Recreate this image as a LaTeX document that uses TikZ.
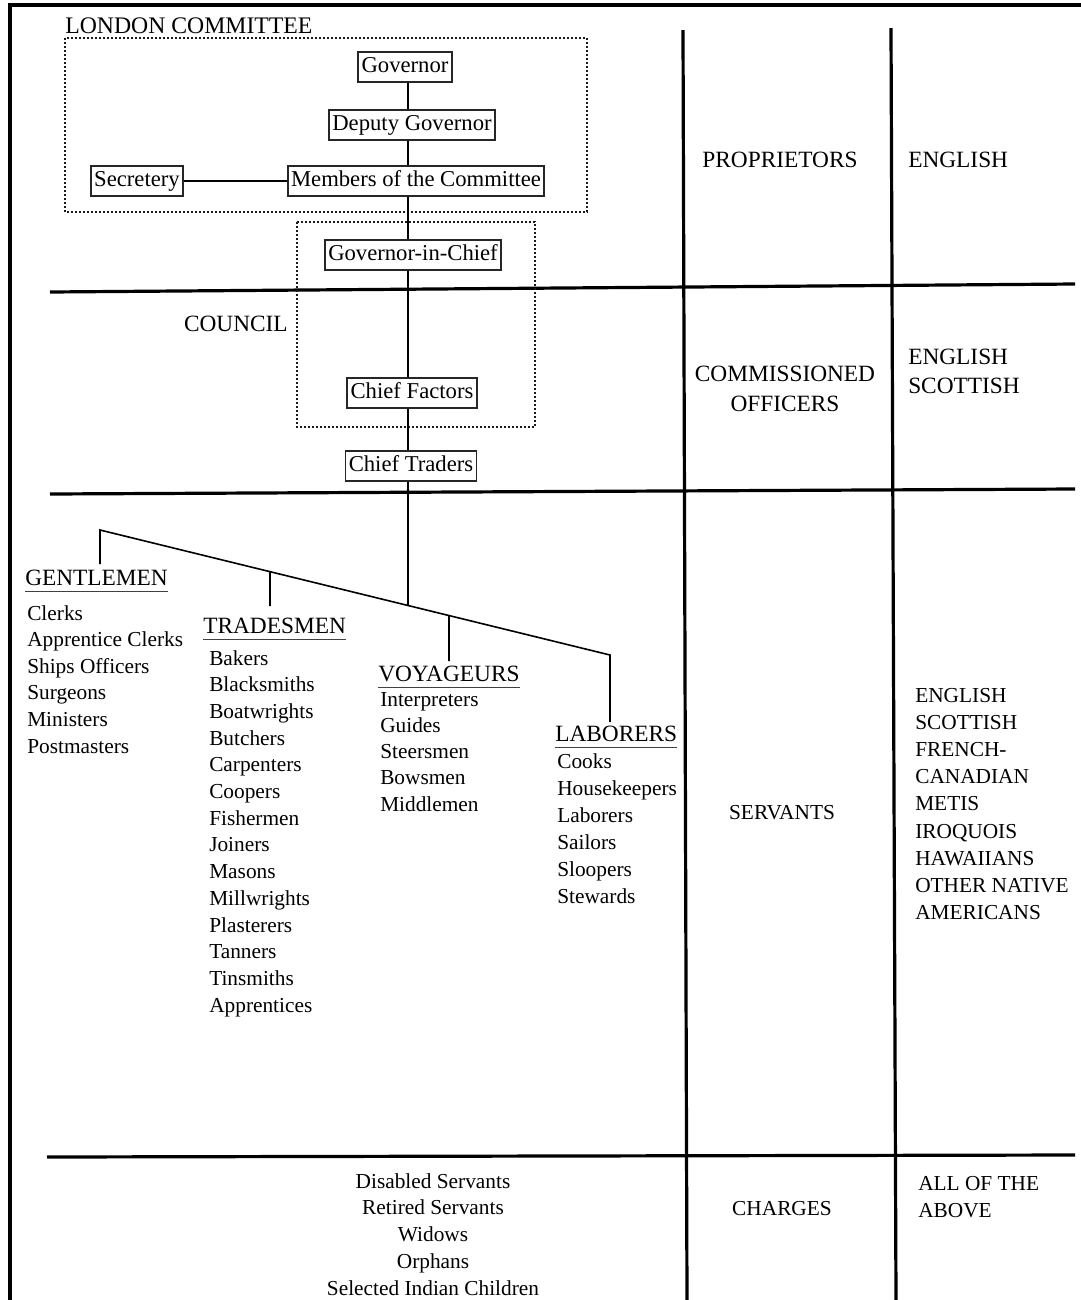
\documentclass[tikz,border=0pt]{standalone}
\usepackage{fontspec}
\setmainfont{Liberation Serif}
\usetikzlibrary{calc}
\begin{document}
\begin{tikzpicture}[x=0.75pt,y=-0.75pt,
  rulebar/.style={line width=2.4pt},
  framebar/.style={line width=3.4pt, line join=miter},
  conn/.style={line width=1.2pt},
  dotbox/.style={line width=1.8pt, dash pattern=on 1.3pt off 1.7pt, black!90},
  orgbox/.style={draw=black!85, line width=1.3pt, inner xsep=2.5pt, inner ysep=0pt, minimum height=22.5pt, text height=12pt, text depth=3.5pt, font=\fontsize{17}{19}\selectfont},
  lbl/.style={inner sep=0pt, font=\fontsize{17.5}{20}\selectfont},
  itm/.style={inner sep=0pt, anchor=base west, font=\fontsize{16}{19}\selectfont},
  bigitm/.style={inner sep=0pt, anchor=base west, font=\fontsize{17.5}{20}\selectfont},
  ctr/.style={inner sep=0pt, anchor=base, font=\fontsize{16}{19}\selectfont},
  bigctr/.style={inner sep=0pt, anchor=base, font=\fontsize{17.5}{20}\selectfont},
  hdr/.style={inner sep=0pt, anchor=base west, font=\fontsize{17.5}{20}\selectfont},
  uline/.style={line width=1.3pt, black!75}
]
\useasboundingbox (0,0) rectangle (1081,1300);

% frame and table rules
\draw[framebar] (10,1300) -- (10,5) -- (1081,5);
\draw[rulebar] (50,292) -- (1075,284);
\draw[rulebar] (50,494) -- (1075,489);
\draw[rulebar] (47,1157) -- (1075,1155);
\draw[rulebar] (683,30) -- (687,1300);
\draw[rulebar] (891,28) -- (896,1300);

% dotted groupings
\draw[dotbox] (65,38) rectangle (587,212);
\draw[dotbox] (297,222) rectangle (535,427);
\node[hdr, font=\fontsize{17.8}{20}\selectfont] (london) at (65,33) {LONDON COMMITTEE};
\node[lbl, anchor=base east] (council) at (288,331) {COUNCIL};

% boxes
\node[orgbox] (gov) at (405,67) {Governor};
\node[orgbox] (dep) at (412,125) {Deputy Governor};
\node[orgbox] (mem) at (416,181) {Members of the Committee};
\node[orgbox] (sec) at (137,181) {Secretery};
\node[orgbox] (gic) at (413,255) {Governor-in-Chief};
\node[orgbox] (cf) at (412,393) {Chief Factors};
\node[orgbox] (ct) at (411,466) {Chief Traders};

\coordinate (spx) at (408,0);
\draw[conn] (spx |- gov.south) -- (spx |- dep.north);
\draw[conn] (spx |- dep.south) -- (spx |- mem.north);
\draw[conn] (spx |- mem.south) -- (spx |- gic.north);
\draw[conn] (spx |- gic.south) -- (spx |- cf.north);
\draw[conn] (spx |- cf.south) -- (spx |- ct.north);
\draw[conn] (sec.east) -- (mem.west);

% branching
\coordinate (sl) at (100,530);
\coordinate (sr) at (610,655);
\coordinate (foot) at ($(sl)!{(408-100)/510}!(sr)$);
\coordinate (tj) at ($(sl)!{(270-100)/510}!(sr)$);
\coordinate (vj) at ($(sl)!{(449-100)/510}!(sr)$);
\coordinate (gend) at (100,564);
\coordinate (tend) at (270,606);
\coordinate (vend) at (449,661);
\coordinate (lend) at (610,722);
\draw[conn] (spx |- ct.south) -- (foot);
\draw[conn] (gend) -- (sl) -- (sr) -- (lend);
\draw[conn] (tj) -- (tend);
\draw[conn] (vj) -- (vend);

% headers
\node[hdr] (gent) at (25,585) {GENTLEMEN};
\node[hdr] (trad) at (203,633) {TRADESMEN};
\node[hdr] (voy) at (378,681) {VOYAGEURS};
\node[hdr] (lab) at (555,741) {LABORERS};
\foreach \h in {gent,trad,voy,lab}
  \draw[uline] ([yshift=-4.8pt]\h.base west) -- ([yshift=-4.8pt]\h.base east);

% lists
\foreach [count=\i] \t in {Clerks,Apprentice Clerks,Ships Officers,Surgeons,Ministers,Postmasters}
  \node[itm] (gl\i) at (27,{620+(\i-1)*26.6}) {\t};
\foreach [count=\i] \t in {Bakers,Blacksmiths,Boatwrights,Butchers,Carpenters,Coopers,Fishermen,Joiners,Masons,Millwrights,Plasterers,Tanners,Tinsmiths,Apprentices}
  \node[itm] (tl\i) at (209,{665+(\i-1)*26.7}) {\t};
\foreach [count=\i] \t in {Interpreters,Guides,Steersmen,Bowsmen,Middlemen}
  \node[itm] (vl\i) at (380,{706+(\i-1)*26.3}) {\t};
\foreach [count=\i] \t in {Cooks,Housekeepers,Laborers,Sailors,Sloopers,Stewards}
  \node[itm] (ll\i) at (557,{768+(\i-1)*27}) {\t};

% middle column
\node[bigctr] (prop) at (780,167) {PROPRIETORS};
\node[bigctr] (comm1) at (785,381) {COMMISSIONED};
\node[bigctr] (comm2) at (785,411) {OFFICERS};
\node[ctr] (serv) at (782,819) {SERVANTS};
\node[ctr] (charg) at (782,1215) {CHARGES};

% right column
\node[bigitm] (eng1) at (908,167) {ENGLISH};
\node[bigitm] (eng2) at (908,364) {ENGLISH};
\node[bigitm] (sco2) at (908,393) {SCOTTISH};
\foreach [count=\i] \t in {ENGLISH,SCOTTISH,FRENCH-,CANADIAN,METIS,IROQUOIS,HAWAIIANS,OTHER NATIVE,AMERICANS}
  \node[itm] (nl\i) at (915,{702+(\i-1)*27.2}) {\t};
\node[itm] (all1) at (918,1190) {ALL OF THE};
\node[itm] (all2) at (918,1217) {ABOVE};

% charges list
\foreach [count=\i] \t in {Disabled Servants,Retired Servants,Widows,Orphans,Selected Indian Children}
  \node[ctr] (cl\i) at (433,{1188+(\i-1)*26.8}) {\t};
\end{tikzpicture}
\end{document}
